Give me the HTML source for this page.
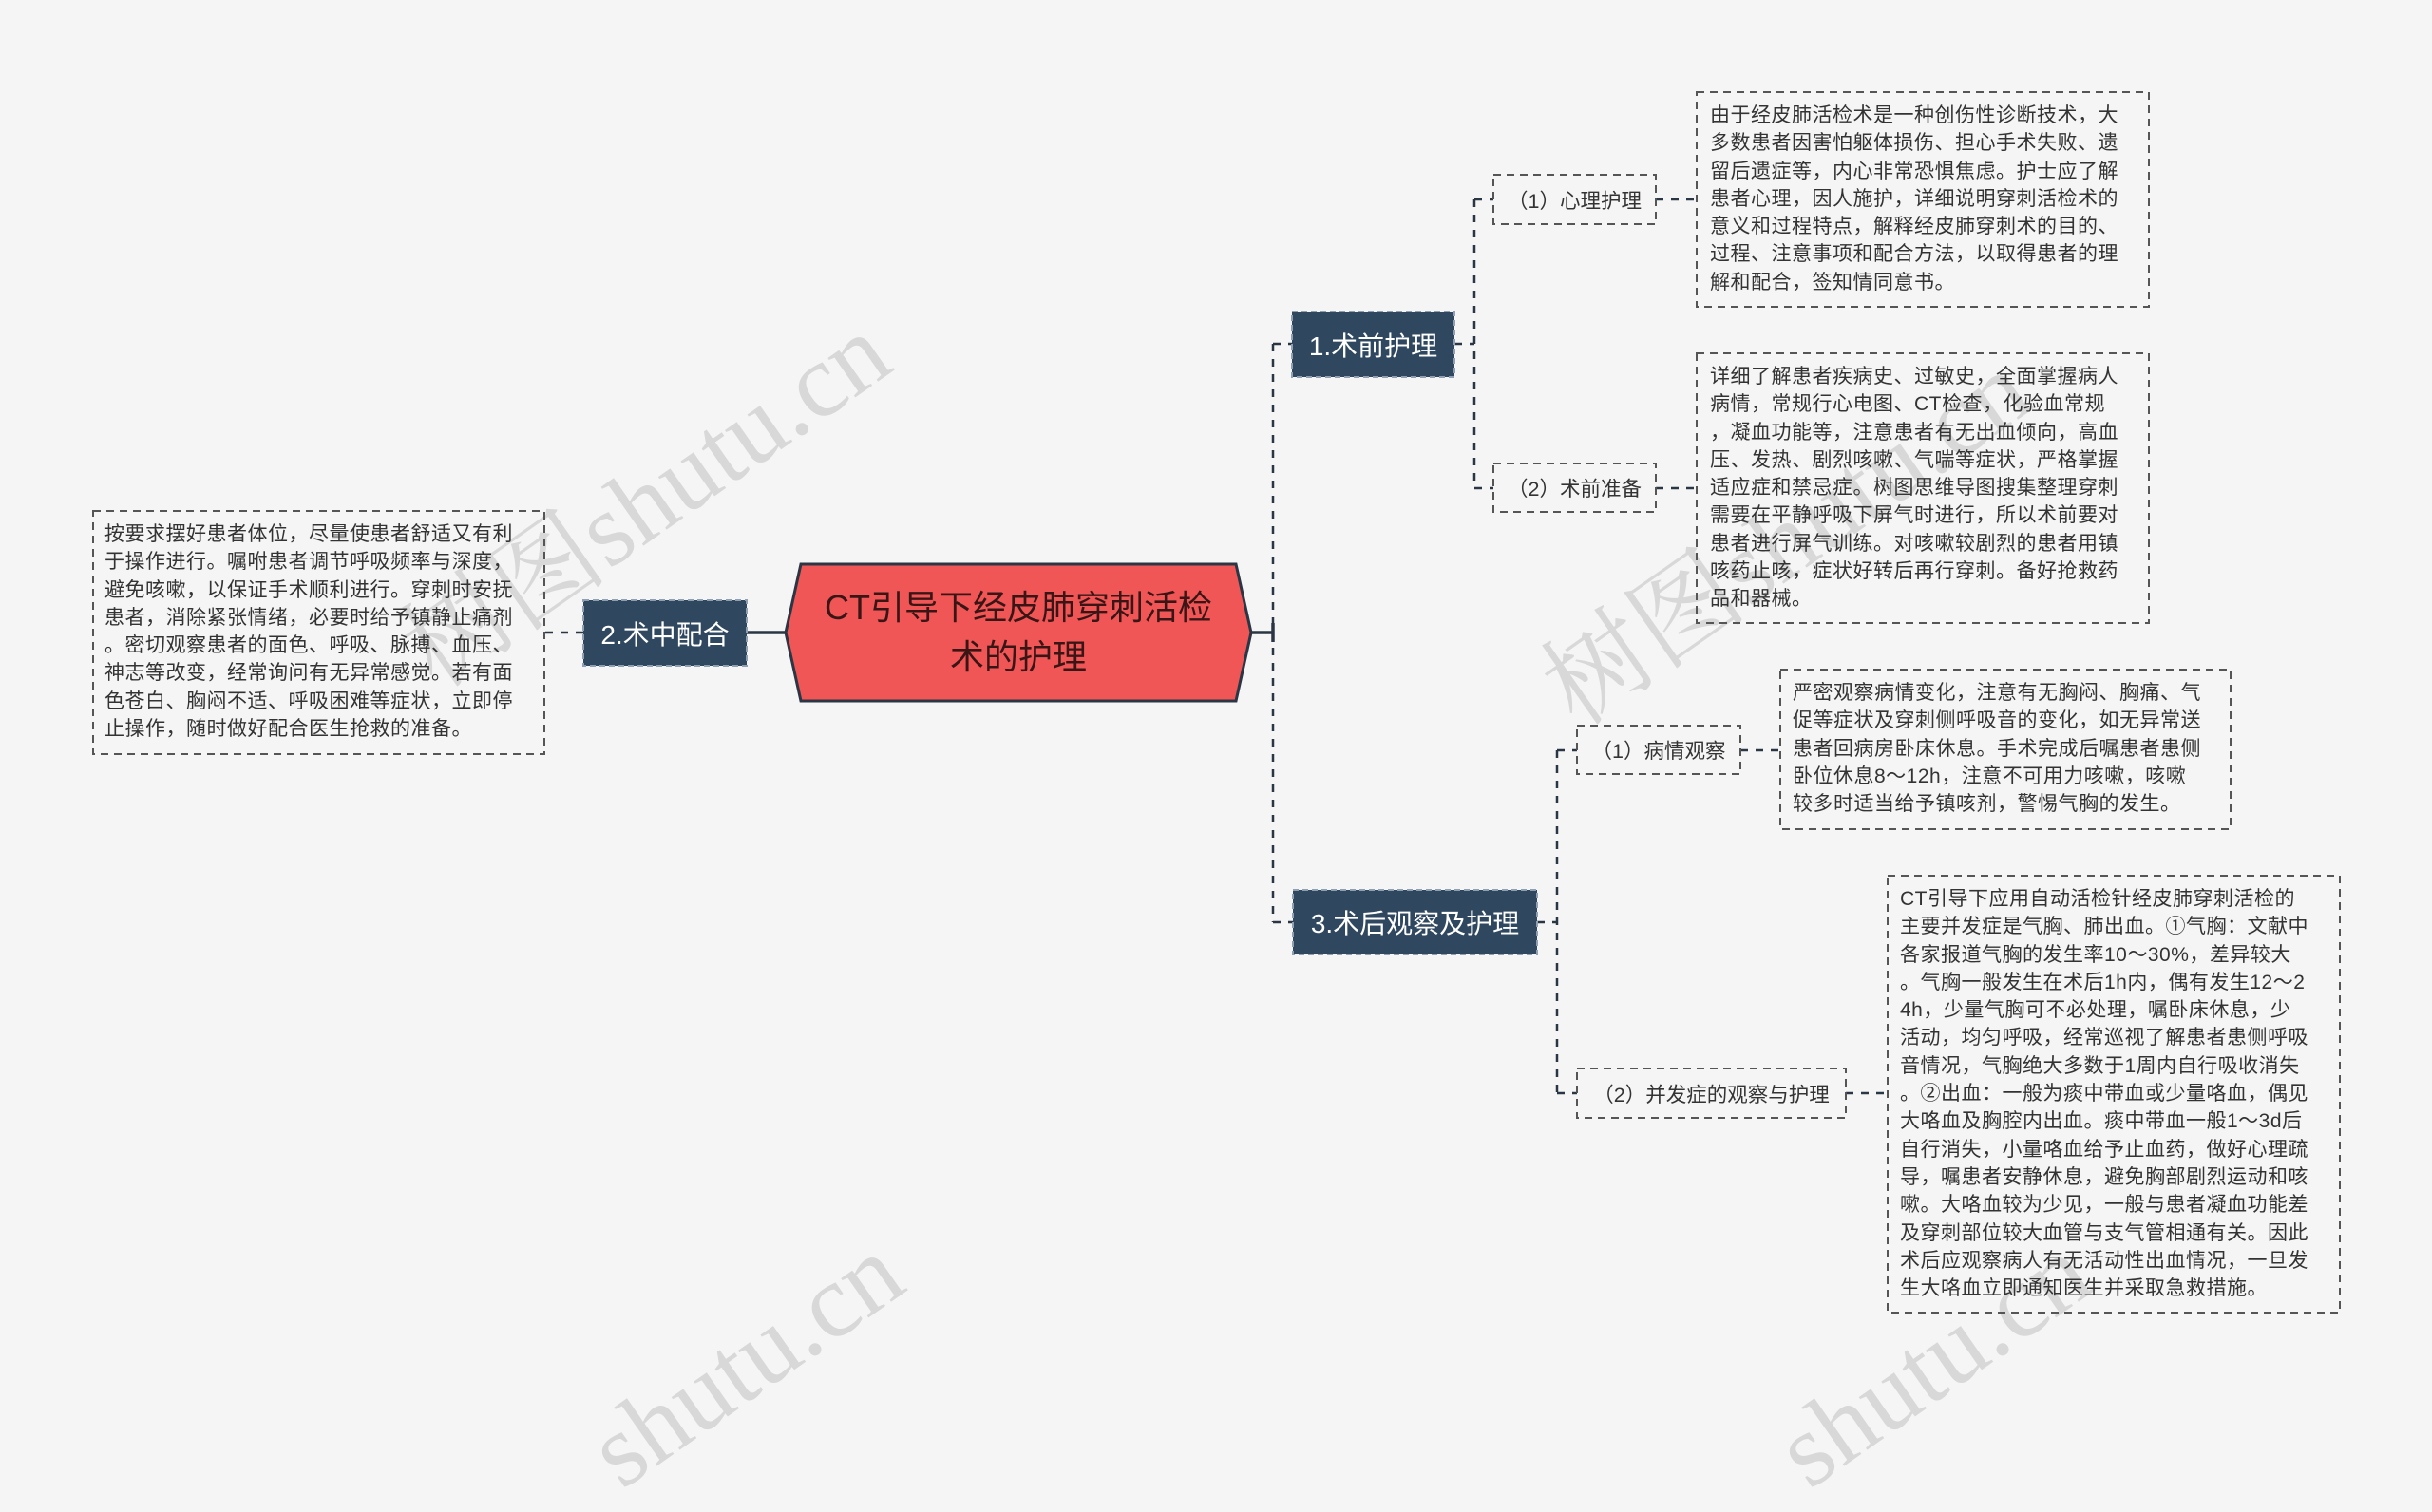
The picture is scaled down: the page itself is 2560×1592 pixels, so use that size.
<!DOCTYPE html>
<html><head><meta charset="utf-8"><style>
body{margin:0;width:2560px;height:1479px;background:#f5f5f5;position:relative;overflow:hidden;font-family:"Liberation Sans","Noto Sans CJK SC",sans-serif;}
.t{position:absolute;font-size:21px;letter-spacing:0.5px;line-height:29.3px;color:#333;white-space:nowrap;}
.l{position:absolute;font-size:21.5px;color:#333;display:flex;align-items:center;justify-content:center;white-space:nowrap;}
.n1{position:absolute;font-size:28px;color:#fff;display:flex;align-items:center;justify-content:center;white-space:nowrap;}
.wm{position:absolute;font-size:110px;color:#d2d2d2;transform:rotate(-35deg);white-space:nowrap;font-family:"Liberation Serif","Noto Serif CJK SC",serif;opacity:.8}
</style></head><body>
<div class="wm" style="left:380px;top:440px;">树图shutu.cn</div>
<div class="wm" style="left:1580px;top:480px;">树图shutu.cn</div>
<div class="wm" style="left:600px;top:1370px;">shutu.cn</div>
<div class="wm" style="left:1850px;top:1370px;">shutu.cn</div>
<svg width="2560" height="1479" style="position:absolute;left:0;top:0">
<g fill="none" stroke="#2a3644" stroke-width="2.5" stroke-dasharray="8,8">
<path d="M1340 362 V971 M1340 362 H1361 M1340 971 H1361"/>
<path d="M1531 362 H1552 M1552 210 V514 M1552 210 H1572 M1552 514 H1572"/>
<path d="M1743 210 H1786 M1743 514 H1786"/>
<path d="M1618 971 H1639 M1639 790 V1151 M1639 790 H1660 M1639 1151 H1660"/>
<path d="M1832 790 H1874 M1943 1151 H1987"/>
<path d="M614 666 H573"/>
</g>
<path d="M1317 666 H1340 M1340 656 V676 M786 666 H827" stroke="#2a3644" stroke-width="3.5"/>
<polygon points="827,666 843,594 1301,594 1317,666 1301,738 843,738" fill="#f05656" stroke="#2a3644" stroke-width="3"/>
<g fill="none" stroke="#555" stroke-width="2" stroke-dasharray="8,6">
<rect x="1786" y="97" width="476" height="226"/>
<rect x="1572" y="184" width="171" height="52"/>
<rect x="1786" y="372" width="476" height="284"/>
<rect x="1572" y="488" width="171" height="51"/>
<rect x="1874" y="705" width="474" height="168"/>
<rect x="1660" y="764" width="172" height="51"/>
<rect x="1987" y="922" width="476" height="460"/>
<rect x="1660" y="1125" width="283" height="52"/>
<rect x="98" y="538" width="475" height="256"/>
</g>
<g fill="#304760" stroke="#8fa0b2" stroke-width="2" stroke-dasharray="6,4">
<rect x="1360" y="328" width="171" height="69"/>
<rect x="1361" y="937" width="257" height="68"/>
<rect x="614" y="632" width="172" height="69"/>
</g>
</svg>
<div class="l" style="left:827px;top:594px;width:490px;height:144px;font-size:36px;line-height:52px;color:#3a1515;text-align:center;white-space:normal;">CT引导下经皮肺穿刺活检<br>术的护理</div>
<div class="n1" style="left:1360px;top:328px;width:171px;height:69px;">1.术前护理</div>
<div class="n1" style="left:1361px;top:937px;width:257px;height:68px;">3.术后观察及护理</div>
<div class="n1" style="left:614px;top:632px;width:172px;height:69px;">2.术中配合</div>
<div class="l" style="left:1572px;top:184px;width:171px;height:52px;">（1）心理护理</div>
<div class="l" style="left:1572px;top:488px;width:171px;height:51px;">（2）术前准备</div>
<div class="l" style="left:1660px;top:764px;width:172px;height:51px;">（1）病情观察</div>
<div class="l" style="left:1660px;top:1125px;width:283px;height:52px;">（2）并发症的观察与护理</div>
<div class="t" style="left:1800px;top:107px;">由于经皮肺活检术是一种创伤性诊断技术，大<br>多数患者因害怕躯体损伤、担心手术失败、遗<br>留后遗症等，内心非常恐惧焦虑。护士应了解<br>患者心理，因人施护，详细说明穿刺活检术的<br>意义和过程特点，解释经皮肺穿刺术的目的、<br>过程、注意事项和配合方法，以取得患者的理<br>解和配合，签知情同意书。</div>
<div class="t" style="left:1800px;top:382px;">详细了解患者疾病史、过敏史，全面掌握病人<br>病情，常规行心电图、CT检查，化验血常规<br>，凝血功能等，注意患者有无出血倾向，高血<br>压、发热、剧烈咳嗽、气喘等症状，严格掌握<br>适应症和禁忌症。树图思维导图搜集整理穿刺<br>需要在平静呼吸下屏气时进行，所以术前要对<br>患者进行屏气训练。对咳嗽较剧烈的患者用镇<br>咳药止咳，症状好转后再行穿刺。备好抢救药<br>品和器械。</div>
<div class="t" style="left:1887px;top:715px;">严密观察病情变化，注意有无胸闷、胸痛、气<br>促等症状及穿刺侧呼吸音的变化，如无异常送<br>患者回病房卧床休息。手术完成后嘱患者患侧<br>卧位休息8～12h，注意不可用力咳嗽，咳嗽<br>较多时适当给予镇咳剂，警惕气胸的发生。</div>
<div class="t" style="left:2000px;top:932px;">CT引导下应用自动活检针经皮肺穿刺活检的<br>主要并发症是气胸、肺出血。①气胸：文献中<br>各家报道气胸的发生率10～30%，差异较大<br>。气胸一般发生在术后1h内，偶有发生12～2<br>4h，少量气胸可不必处理，嘱卧床休息，少<br>活动，均匀呼吸，经常巡视了解患者患侧呼吸<br>音情况，气胸绝大多数于1周内自行吸收消失<br>。②出血：一般为痰中带血或少量咯血，偶见<br>大咯血及胸腔内出血。痰中带血一般1～3d后<br>自行消失，小量咯血给予止血药，做好心理疏<br>导，嘱患者安静休息，避免胸部剧烈运动和咳<br>嗽。大咯血较为少见，一般与患者凝血功能差<br>及穿刺部位较大血管与支气管相通有关。因此<br>术后应观察病人有无活动性出血情况，一旦发<br>生大咯血立即通知医生并采取急救措施。</div>
<div class="t" style="left:110px;top:548px;">按要求摆好患者体位，尽量使患者舒适又有利<br>于操作进行。嘱咐患者调节呼吸频率与深度，<br>避免咳嗽，以保证手术顺利进行。穿刺时安抚<br>患者，消除紧张情绪，必要时给予镇静止痛剂<br>。密切观察患者的面色、呼吸、脉搏、血压、<br>神志等改变，经常询问有无异常感觉。若有面<br>色苍白、胸闷不适、呼吸困难等症状，立即停<br>止操作，随时做好配合医生抢救的准备。</div>
</body></html>
